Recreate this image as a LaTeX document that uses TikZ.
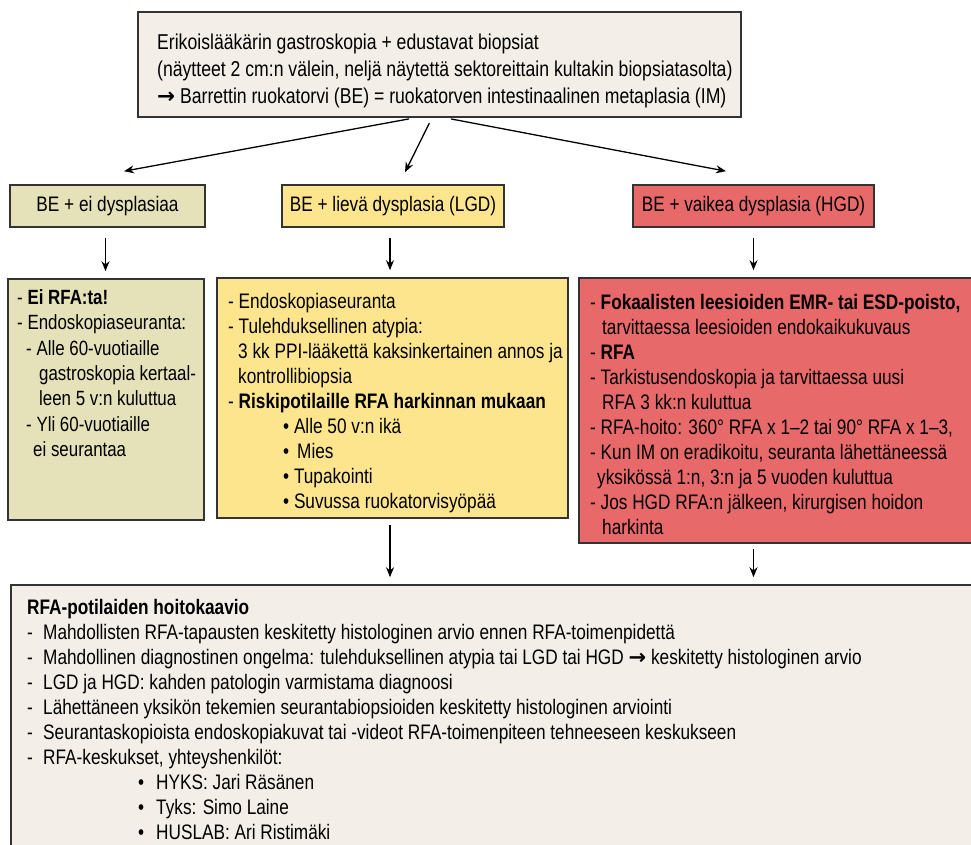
\documentclass[tikz,border=0pt]{standalone}
\usepackage{fontspec}
\setmainfont{Liberation Sans}[FakeStretch=0.82]
\newfontfamily\arrowfont{DejaVu Sans}
\usetikzlibrary{positioning,calc,arrows.meta}
\definecolor{paper}{HTML}{F3EFE8}
\definecolor{nodys}{HTML}{E5E1B9}
\definecolor{lowdys}{HTML}{FDE58E}
\definecolor{highdys}{HTML}{E8696A}
\definecolor{edge}{HTML}{333333}
\newcommand{\longarr}{{\arrowfont\bfseries →}}

\begin{document}
\begin{tikzpicture}[x=1pt,y=-1pt,font=\fontsize{21}{25}\selectfont,
  box/.style={draw=edge,line width=1.6pt,rectangle,inner sep=0pt},
  txt/.style={anchor=north west,align=left,inner sep=0pt},
  arr/.style={-{Stealth[length=10pt,width=8pt]},line width=1.3pt}]
\useasboundingbox (0,0) rectangle (971,845);
\node[box,fill=paper,minimum width=603,minimum height=105] (top) at (439.5,64.5) {};
\node[txt,font=\fontsize{21.5}{27}\selectfont] (toptxt) at (157,33.5) {Erikoislääkärin gastroskopia + edustavat biopsiat\\
(näytteet 2 cm:n välein, neljä näytettä sektoreittain kultakin biopsiatasolta)\\
\longarr\ Barrettin ruokatorvi (BE) = ruokatorven intestinaalinen metaplasia (IM)};
\node[box,fill=nodys,minimum width=195,minimum height=42] (ndb) at (107.5,206) {BE + ei dysplasiaa};
\node[box,fill=lowdys,minimum width=222,minimum height=42] (lgd) at (393,206) {BE + lievä dysplasia (LGD)};
\node[box,fill=highdys,minimum width=241,minimum height=42] (hgd) at (753.5,206) {BE + vaikea dysplasia (HGD)};
\node[box,fill=nodys,minimum width=196,minimum height=241] (ndbinfo) at (106,399.5) {};
\node[box,fill=lowdys,minimum width=351,minimum height=240] (lgdinfo) at (392.5,398) {};
\node[box,fill=highdys,minimum width=411,minimum height=265] (hgdinfo) at (784.5,410.5) {};
\node[box,fill=paper,minimum width=979,minimum height=285] (rfa) at (500.5,727.5) {};
\node[txt,font=\fontsize{20.6}{25.3}\selectfont] (ndbtxt) at (17,289.5) {- \textbf{Ei RFA:ta!}\\
- Endoskopiaseuranta:\\
\hspace*{9pt}- Alle 60-vuotiaille\\
\hspace*{22pt}gastroskopia kertaal-\\
\hspace*{22pt}leen 5 v:n kuluttua\\
\hspace*{9pt}- Yli 60-vuotiaille\\
\hspace*{16pt}ei seurantaa};
\node[txt] (lgdtxt) at (228,293.5) {- Endoskopiaseuranta\\
- Tulehduksellinen atypia:\\
\hspace*{10pt}3 kk PPI-lääkettä kaksinkertainen annos ja\\
\hspace*{10pt}kontrollibiopsia\\
- \textbf{Riskipotilaille RFA harkinnan mukaan}\\
\hspace*{55pt}• Alle 50 v:n ikä\\
\hspace*{55pt}•\hspace*{8pt}Mies\\
\hspace*{55pt}• Tupakointi\\
\hspace*{55pt}• Suvussa ruokatorvisyöpää};
\node[txt] (hgdtxt) at (590,294.5) {- \textbf{Fokaalisten leesioiden EMR- tai ESD-poisto,}\\
\hspace*{12pt}tarvittaessa leesioiden endokaikukuvaus\\
- \textbf{RFA}\\
- Tarkistusendoskopia ja tarvittaessa uusi\\
\hspace*{12pt}RFA 3 kk:n kuluttua\\
- RFA-hoito: 360° RFA x 1–2 tai 90° RFA x 1–3,\\
- Kun IM on eradikoitu, seuranta lähettäneessä\\
\hspace*{7pt}yksikössä 1:n, 3:n ja 5 vuoden kuluttua\\
- Jos HGD RFA:n jälkeen, kirurgisen hoidon\\
\hspace*{12pt}harkinta};
\node[txt,font=\fontsize{21}{24.9}\selectfont] (rfatxt) at (27,599.5) {\textbf{RFA-potilaiden hoitokaavio}\\
\makebox[16pt][l]{-}Mahdollisten RFA-tapausten keskitetty histologinen arvio ennen RFA-toimenpidettä\\
\makebox[16pt][l]{-}Mahdollinen diagnostinen ongelma: tulehduksellinen atypia tai LGD tai HGD \longarr\ keskitetty histologinen arvio\\
\makebox[16pt][l]{-}LGD ja HGD: kahden patologin varmistama diagnoosi\\
\makebox[16pt][l]{-}Lähettäneen yksikön tekemien seurantabiopsioiden keskitetty histologinen arviointi\\
\makebox[16pt][l]{-}Seurantaskopioista endoskopiakuvat tai -videot RFA-toimenpiteen tehneeseen keskukseen\\
\makebox[16pt][l]{-}RFA-keskukset, yhteyshenkilöt:\\
\hspace*{111pt}\makebox[18pt][l]{•}HYKS: Jari Räsänen\\
\hspace*{111pt}\makebox[18pt][l]{•}Tyks: Simo Laine\\
\hspace*{111pt}\makebox[18pt][l]{•}HUSLAB: Ari Ristimäki};
\draw[arr,shorten <=6pt] ([xshift=-24.5pt]top.south) -- ([xshift=16.5pt,yshift=13pt]ndb.north);
\draw[arr,shorten <=6pt] ([xshift=-7.5pt]top.south) -- ([xshift=12pt,yshift=12pt]lgd.north);
\draw[arr,shorten <=6pt] ([xshift=5.5pt]top.south) -- ([xshift=-27.5pt,yshift=13pt]hgd.north);
\draw[arr,shorten <=10pt,shorten >=7pt] ([xshift=-2pt]ndb.south) -- ([xshift=-2pt]ndb.south |- ndbinfo.north);
\draw[arr,shorten <=10pt,shorten >=7pt] ([xshift=-3pt]lgd.south) -- ([xshift=-3pt]lgd.south |- lgdinfo.north);
\draw[arr,shorten <=10pt,shorten >=7pt] (hgd.south) -- (hgd.south |- hgdinfo.north);
\draw[arr,shorten <=6pt,shorten >=7pt] ([xshift=-2.5pt]lgdinfo.south) -- ([xshift=-2.5pt]lgdinfo.south |- rfa.north);
\draw[arr,shorten <=5pt,shorten >=7pt] (hgd.south |- hgdinfo.south) -- (hgd.south |- rfa.north);
\end{tikzpicture}
\end{document}
